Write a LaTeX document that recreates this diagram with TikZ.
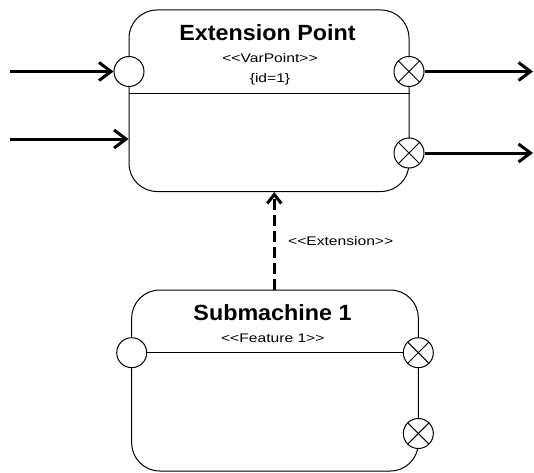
\documentclass[tikz,border=0pt]{standalone}
\usepackage{fontspec}
\setmainfont{Liberation Sans}
\newfontfamily\titlefont[FakeStretch=1.06]{Liberation Sans Bold}
\newfontfamily\stereofont[FakeStretch=1.25]{Liberation Sans}
\usetikzlibrary{arrows.meta,calc}
\begin{document}
\begin{tikzpicture}[x=1pt,y=1pt,
  statebox/.style={draw=black, line width=1pt, rounded corners=28pt, inner sep=0pt, fill=white},
  entrypt/.style={circle, draw=black, line width=1pt, fill=white, minimum size=30pt, inner sep=0pt},
  exitpt/.style={entrypt, path picture={
      \draw[line width=1pt] (path picture bounding box.south west) -- (path picture bounding box.north east)
                            (path picture bounding box.north west) -- (path picture bounding box.south east);}},
  flow/.style={line width=3pt, -{Straight Barb[length=12pt,width=18pt]}},
  ext/.style={line width=3pt, dash pattern=on 11pt off 5pt, -{Straight Barb[length=9pt,width=14pt]}},
  titletext/.style={font=\titlefont\fontsize{22}{24}\selectfont},
  stereo/.style={font=\stereofont\fontsize{12.5}{14}\selectfont}]
\useasboundingbox (0,0) rectangle (534,472);

% upper state: extension point
\node[statebox, minimum width=280pt, minimum height=181.5pt] (ep) at (269,371.25) {};
\draw[line width=1pt] (ep.west |- 0,378) -- (ep.east |- 0,378);
\node[titletext] (eptitle) at (267.5,439) {Extension Point};
\node[stereo] (epstereo) at (270,414) {<{}<VarPoint>{}>};
\node[stereo] (epid) at (270,393) {\{id=1\}};
\node[entrypt] (epin) at (129,400.5) {};
\node[exitpt] (epout1) at (409,400.5) {};
\node[exitpt] (epout2) at (409,319) {};

% lower state: submachine
\node[statebox, minimum width=286.6pt, minimum height=181pt] (sm) at (275,91.5) {};
\draw[line width=1pt] (sm.west |- 0,119.3) -- (sm.east |- 0,119.3);
\node[titletext] (smtitle) at (272.5,159) {Submachine 1};
\node[stereo] (smstereo) at (272.8,134) {<{}<Feature 1>{}>};
\node[entrypt] (smin) at (131.7,119.3) {};
\node[exitpt] (smout1) at (418.3,119.3) {};
\node[exitpt] (smout2) at (418.3,38.5) {};

% free ends of the transitions
\coordinate (inA) at (10,400.5);
\coordinate (inB) at (10,333);
\coordinate (outA) at (533,400.5);
\coordinate (outB) at (533,319);

\draw[flow] (inA) -- (epin.west);
\draw[flow] (inB) -- (inB -| ep.west);
\draw[flow] (epout1.east) -- (outA);
\draw[flow] (epout2.east) -- (outB);

% extension relation
\draw[ext] (sm.north -| 274.3,0) -- (ep.south -| 274.3,0)
  node[stereo, midway, right=9pt] (extlabel) {<{}<Extension>{}>};
\end{tikzpicture}
\end{document}
